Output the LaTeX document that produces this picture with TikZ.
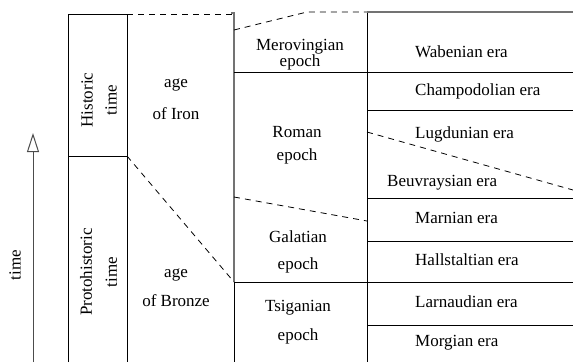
\documentclass[tikz,border=0pt]{standalone}
\usepackage{fontspec}
\setmainfont{Liberation Serif}
\usetikzlibrary{arrows.meta}
\begin{document}
\begin{tikzpicture}[x=1pt,y=-1pt,
  txt/.style={font=\fontsize{17}{17}\selectfont, inner sep=0pt, align=center},
  era/.style={txt, anchor=west},
  ln/.style={black, line width=0.8pt},
  gln/.style={black!55, line width=1.4pt},
  dsh/.style={black, line width=0.8pt, dash pattern=on 6pt off 5pt}]
\useasboundingbox (0,0) rectangle (573,362);
% time arrow
\coordinate (tb) at (33,362);
\coordinate (tt) at (33,133);
\draw[black!70, line width=1pt, -{Triangle[open, length=19pt, width=12pt]}] (tb) -- (tt);
\node[txt, rotate=90] (time) at (15,265) {time};
% column 1
\draw[ln] (68,362) -- (68,14) -- (127,14) -- (127,362);
\draw[ln] (68,156) -- (127,156);
\node[txt, rotate=90] (hist) at (99,100) {Historic\\[7pt]time};
\node[txt, rotate=90] (proto) at (98.5,272) {Protohistoric\\[8pt]time};
% column 2
\draw[dsh] (127,14) -- (234,14);
\draw[gln] (231,13) -- (234,13) -- (234,282);
\draw[dsh] (127,156) -- (234,282);
\draw[ln] (234,282) -- (234,362);
\node[txt] (iron) at (176,99) {age\\[15pt]of Iron};
\node[txt] (bronze) at (176,287.5) {age\\[12pt]of Bronze};
% column 3
\draw[dsh] (234,30) -- (307,12) -- (367,12);
\draw[ln] (367,12) -- (367,362);
\draw[ln] (234,72) -- (573,72);
\draw[dsh] (234,197) -- (367,221);
\draw[ln] (234,282) -- (573,282);
\node[txt] (mero) at (300,55) {Merovingian\\[-1pt]epoch};
\node[txt] (roman) at (297,145.5) {Roman\\[6pt]epoch};
\node[txt] (gala) at (298,251.5) {Galatian\\[10pt]epoch};
\node[txt] (tsig) at (298,322.5) {Tsiganian\\[12pt]epoch};
% column 4
\draw[gln] (367,12) -- (573,12);
\draw[ln] (367,110) -- (573,110);
\draw[dsh] (367,132) -- (573,190);
\draw[ln] (367,198) -- (573,198);
\draw[ln] (367,241) -- (573,241);
\draw[ln] (367,325) -- (573,325);
\node[era] (wab) at (415,52) {Wabenian era};
\node[era] (cha) at (415,91) {Champodolian era};
\node[era] (lug) at (415,134) {Lugdunian era};
\node[era] (beu) at (387,183) {Beuvraysian era};
\node[era] (mar) at (415,218) {Marnian era};
\node[era] (hal) at (415,260) {Hallstaltian era};
\node[era] (lar) at (415,302) {Larnaudian era};
\node[era] (mor) at (415,343) {Morgian era};
\end{tikzpicture}
\end{document}
